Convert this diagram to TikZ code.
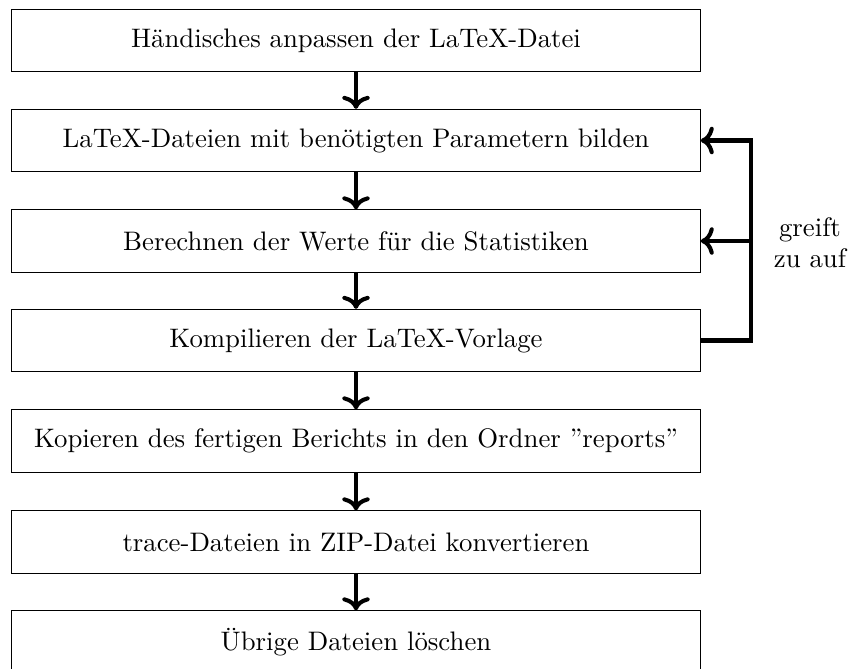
\documentclass[tikz,border=0pt]{standalone}
\usetikzlibrary{arrows.meta}
\begin{document}
\begin{tikzpicture}[x=0.39216pt,y=-0.39216pt,
  every node/.style={font=\fontsize{10.5pt}{12pt}\selectfont},
  stepbox/.style={draw, line width=0.4pt, minimum width=270pt, minimum height=24.4pt, inner sep=0pt, align=center},
  flow/.style={->, ultra thick},
  note/.style={align=center, inner sep=0pt}
]
\useasboundingbox (0,0) rectangle (850,669);
\node[stepbox] (b1) at (356,40.5) {Händisches anpassen der LaTeX-Datei};
\node[stepbox] (b2) at (356,140.5) {LaTeX-Dateien mit benötigten Parametern bilden};
\node[stepbox] (b3) at (356,241) {Berechnen der Werte für die Statistiken};
\node[stepbox] (b4) at (356,340.5) {Kompilieren der LaTeX-Vorlage};
\node[stepbox] (b5) at (356,441) {Kopieren des fertigen Berichts in den Ordner ''reports''};
\node[stepbox] (b6) at (356,542) {trace-Dateien in ZIP-Datei konvertieren};
\node[stepbox] (b7) at (356,642) {Übrige Dateien löschen};
\draw[flow] (b1) -- (b2);
\draw[flow] (b2) -- (b3);
\draw[flow] (b3) -- (b4);
\draw[flow] (b4) -- (b5);
\draw[flow] (b5) -- (b6);
\draw[flow] (b6) -- (b7);
\coordinate (fb) at (751,340.5);
\draw[flow] (b4.east) -- (fb) |- (b2.east);
\draw[flow] (fb |- b3.east) -- (b3.east);
\node[note] (lbl) at (810,243) {greift\\zu auf};
\end{tikzpicture}
\end{document}
